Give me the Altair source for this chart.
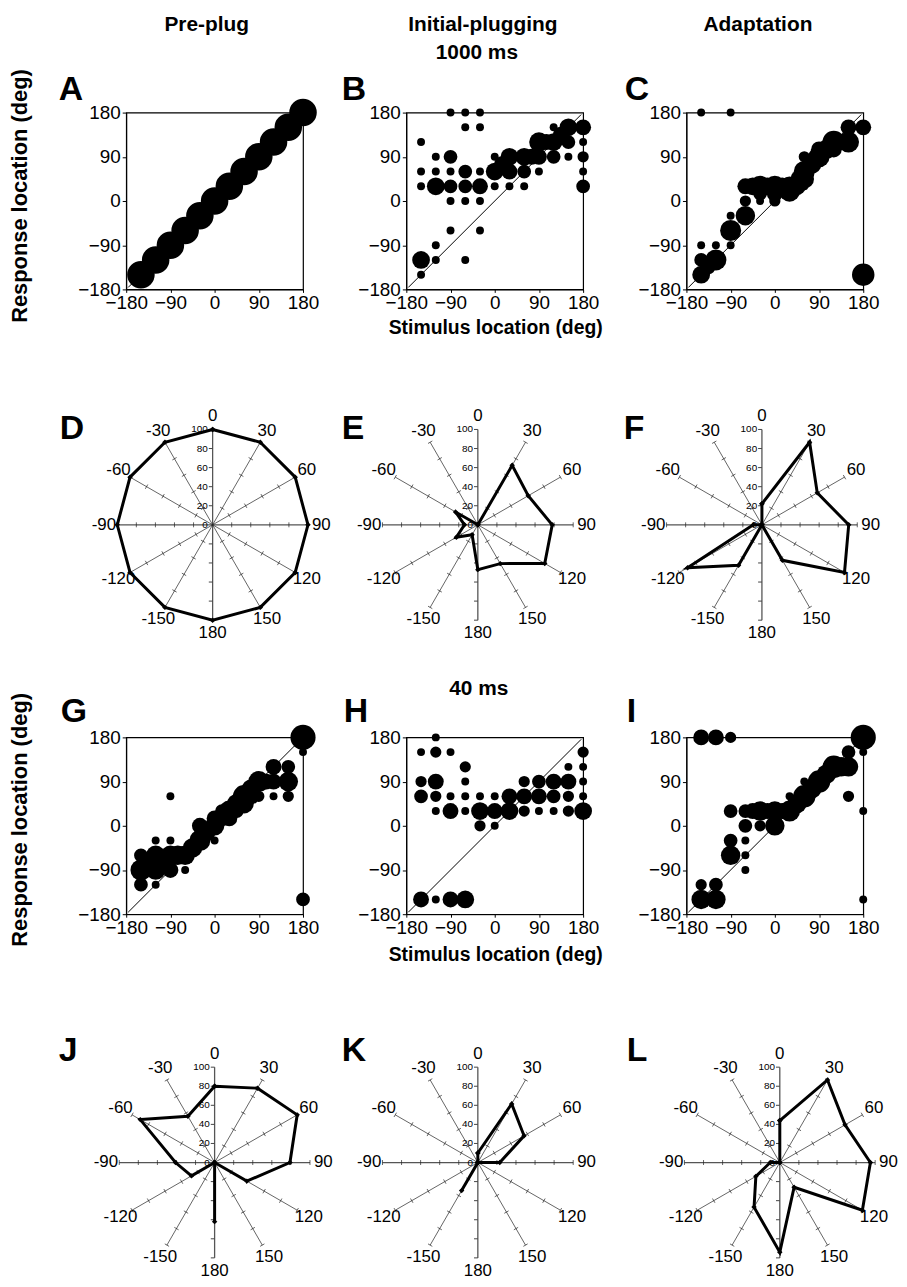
import altair as alt
import pandas as pd

FONT = "Liberation Sans"

# ---------------- text ----------------
COLUMN_TITLES = ["Pre-plug", "Initial-plugging", "Adaptation"]
DURATIONS = ["1000 ms", "40 ms"]
LETTERS = ["A", "B", "C", "D", "E", "F", "G", "H", "I", "J", "K", "L"]
Y_TITLE = "Response location (deg)"
X_TITLE = "Stimulus location (deg)"

# ---------------- scatter data ----------------
AXIS_TICKS = [-180, -90, 0, 90, 180]
DIAG = [-176, 176]

A_STIM = [-150, -120, -90, -60, -30, 0, 30, 60, 90, 120, 150, 180]
A_RESP = [-150, -120, -90, -60, -30, 0, 30, 60, 90, 120, 150, 180]
A_N = [12, 12, 12, 12, 12, 12, 12, 12, 12, 12, 12, 12]

B_STIM = [-150, -150, -150, -150, -150, -120, -120, -120, -120, -120,
          -90, -90, -90, -90, -90, -90, -60, -60, -60, -60, -60, -60,
          -30, -30, -30, -30, -30, -30, 0, 0, 0, 30, 30, 30, 60, 60, 60,
          90, 90, 90, 120, 120, 120, 150, 150, 150, 180, 180, 180, 180, 180,
          75, 105, 135, 15]
B_RESP = [120, 60, 30, -120, -150, 90, 60, 30, -90, -120,
          180, 90, 60, 30, 0, -60, 180, 150, 60, 30, 0, -120,
          180, 150, 60, 30, 0, -60, 90, 60, 30, 90, 60, 30, 90, 60, 30,
          120, 90, 60, 150, 120, 90, 150, 120, 90, 150, 120, 90, 60, 30,
          90, 120, 135, 75]
B_N = [1, 1, 1, 5, 1, 1, 1, 5, 1, 1,
       1, 3, 1, 3, 1, 1, 1, 1, 3, 3, 1, 1,
       1, 1, 1, 4, 1, 1, 1, 5, 1, 5, 4, 1, 5, 3, 1,
       6, 4, 1, 1, 5, 3, 5, 3, 1, 4, 1, 2, 1, 3,
       4, 4, 4, 4]

C_STIM = [-150, -90, -150, -150, -150, -135, -120, -120,
          -90, -90, -90, -60, -60, -60,
          -45, -30, -30, -30, -15, 0, 0, 0,
          15, 30, 30, 45, 50, 60, 60, 60, 60, 75,
          90, 90, 105, 120, 120, 135, 150, 150, 180, 180]
C_RESP = [180, 180, -90, -120, -150, -135, -120, -90,
          -30, -60, -90, -30, 0, 30,
          30, 30, 15, 0, 30, 30, 15, 0,
          30, 20, 30, 30, 45, 60, 45, 90, 30, 75,
          90, 105, 105, 120, 105, 120, 150, 120, 150, -150]
C_N = [1, 1, 1, 3, 5, 3, 7, 1,
       1, 7, 1, 6, 2, 4,
       5, 7, 3, 1, 5, 7, 4, 2,
       5, 7, 6, 5, 5, 7, 6, 2, 1, 6,
       7, 4, 6, 8, 4, 4, 4, 7, 4, 8]

G_STIM = [-150, -150, -150, -135, -120, -120, -120, -120, -105,
          -90, -90, -90, -90, -75, -60, -60, -45, -30, -30, -15,
          0, 0, 0, 15, 15, 30, 30, 45, 45, 60, 60, 75, 75,
          90, 90, 105, 120, 120, 120, 150, 150, 150, 180, 180, 180]
G_RESP = [-60, -90, -120, -75, -30, -60, -90, -120, -75,
          -30, -60, -90, 60, -60, -60, -90, -45, -30, 0, -15,
          0, 15, -30, 15, 30, 30, 15, 45, 30, 60, 45, 75, 60,
          90, 60, 90, 90, 120, 60, 90, 120, 60, 180, 150, -150]
G_N = [3, 7, 3, 4, 1, 6, 6, 1, 4,
       1, 6, 4, 1, 6, 6, 1, 6, 7, 4, 4,
       6, 4, 1, 4, 3, 7, 4, 6, 3, 8, 6, 6, 4,
       7, 2, 4, 4, 4, 1, 6, 3, 2, 10, 1, 3]

H_STIM = [-120, -150, -120, -90, -150, -120, -150, -120, -90, -120, -90,
          -60, -60, -60, -60, -30, -30, -30, 0, 0, 0, 30, 30,
          60, 60, 60, 90, 90, 90, 120, 120, 120, 150, 150, 150, 150,
          180, 180, 180, 180, 180, -150, -120, -90, -60]
H_RESP = [180, 150, 150, 150, 90, 90, 60, 60, 60, 30, 30,
          120, 90, 60, 30, 60, 30, 0, 60, 30, 0, 60, 30,
          90, 60, 30, 90, 60, 30, 90, 60, 30, 120, 90, 60, 30,
          150, 120, 90, 60, 30, -150, -150, -150, -150]
H_N = [1, 1, 2, 1, 2, 4, 3, 2, 1, 1, 4,
       2, 1, 1, 1, 1, 5, 2, 1, 4, 1, 4, 5,
       2, 4, 2, 3, 4, 1, 4, 3, 1, 1, 4, 2, 2,
       2, 1, 1, 1, 5, 4, 1, 4, 5]

I_STIM = [-150, -120, -90, 180, 180, 180, 180,
          150, 150, 150, 120, 135, 105, 90, 75, 60, 45, 60, 30, 15, 30,
          0, 0, -15, -30, -30, -45, -60, -60, -60, -60, -60,
          -90, -90, -90, -120, -120, -150, -150]
I_RESP = [180, 180, 180, 180, 150, 30, -150,
          150, 120, 60, 120, 120, 105, 90, 75, 60, 45, 90, 30, 30, 60,
          0, 30, 30, 30, 0, 30, 30, 0, -30, -60, -90,
          30, -30, -60, -120, -150, -120, -150]
I_N = [4, 4, 2, 10, 1, 1, 1,
       3, 6, 2, 8, 6, 6, 8, 6, 8, 6, 1, 7, 4, 1,
       6, 6, 4, 6, 2, 4, 3, 3, 1, 1, 1,
       3, 3, 6, 3, 6, 2, 6]

# ---------------- polar data ----------------
ANGLES = [0, 30, 60, 90, 120, 150, 180, -150, -120, -90, -60, -30]
ANGLE_TEXT = ["0", "30", "60", "90", "120", "150", "180",
              "-150", "-120", "-90", "-60", "-30"]
RADIAL_TICKS = [20, 40, 60, 80, 100]
RADIAL_LABELS = [0, 20, 40, 60, 80, 100]
SPOKE_LEN = 100

D_PCT = [100, 100, 100, 100, 100, 100, 100, 100, 100, 100, 100, 100]
E_PCT = [0, 72, 61, 78, 81, 47, 47, 12, 26, 14, 27, 0]
F_PCT = [22, 100, 67, 91, 100, 43, 0, 49, 90, 9, 0, 0]
J_PCT = [80, 90, 100, 79, 39, 0, 62, 0, 28, 41, 90, 56]
K_PCT = [10, 71, 56, 23, 0, 0, 0, 34, 0, 0, 0, 0]
L_PCT = [44, 100, 79, 95, 100, 30, 94, 54, 29, 10, 0, 0]

# ---------------- layout constants ----------------
PANEL_W = 178
SC_H = 178
ROW2_H = 451
ROW4_H = 300
COL_SPACING = 104
K = 0.96  # pixels per percent unit in polar panels
LETTER_SIZE = 34
TITLE_SIZE = 21

# symbol size = area of bounding square: one trial -> 8 px diameter
SIZE_SCALE = alt.Scale(domain=[0, 12], range=[0, 768])


def text_layer(text, x, y, size, align="left", baseline="alphabetic",
               bold=True, angle=None):
    kw = dict(align=align, baseline=baseline, fontSize=size, font=FONT,
              fontWeight="bold" if bold else "normal", color="black")
    if angle is not None:
        kw["angle"] = angle
    return alt.Chart(pd.DataFrame({"t": [text]})).mark_text(**kw).encode(
        x=alt.value(x), y=alt.value(y), text="t:N")


def scatter_panel(stim, resp, n, extras):
    df = pd.DataFrame({"stim": stim, "resp": resp, "n": n})
    sc = alt.Scale(domain=[-180, 180], nice=False, zero=False)
    xax = alt.Axis(values=AXIS_TICKS, title=None, labelFontSize=19,
                   tickSize=3, labelPadding=1, grid=False, labelFlush=False)
    yax = alt.Axis(values=AXIS_TICKS, title=None, labelFontSize=19,
                   tickSize=4, labelPadding=2, grid=False)
    diag = alt.Chart(pd.DataFrame({"lo": [DIAG[0]], "hi": [DIAG[1]]})).mark_rule(
        color="black", strokeWidth=1).encode(
        x=alt.X("lo:Q", scale=sc, axis=xax),
        y=alt.Y("lo:Q", scale=sc, axis=yax),
        x2="hi:Q", y2="hi:Q")
    pts = alt.Chart(df).mark_circle(color="black", opacity=1).encode(
        x=alt.X("stim:Q", scale=sc, axis=xax),
        y=alt.Y("resp:Q", scale=sc, axis=yax),
        size=alt.Size("n:Q", scale=SIZE_SCALE, legend=None))
    return alt.layer(diag, pts, *extras).properties(width=PANEL_W, height=SC_H)


def polar_panel(pct, cx, cy, h, extras):
    xs = alt.Scale(domain=[-cx / K, (PANEL_W - cx) / K], nice=False, zero=False)
    ys = alt.Scale(domain=[(cy - h) / K, cy / K], nice=False, zero=False)

    spokes = pd.DataFrame({"angle": ANGLES, "len": [SPOKE_LEN] * len(ANGLES)})
    spoke_base = alt.Chart(spokes).transform_calculate(
        x0="0", y0="0",
        x1="datum.len*sin(datum.angle*PI/180)",
        y1="datum.len*cos(datum.angle*PI/180)")
    thin = spoke_base.transform_filter(
        "datum.angle % 90 != 0").mark_rule(color="#222", strokeWidth=0.7).encode(
        x=alt.X("x0:Q", scale=xs, axis=None), y=alt.Y("y0:Q", scale=ys, axis=None),
        x2="x1:Q", y2="y1:Q")
    main = spoke_base.transform_filter(
        "datum.angle % 90 == 0").mark_rule(color="#555", strokeWidth=1.3).encode(
        x=alt.X("x0:Q", scale=xs, axis=None), y=alt.Y("y0:Q", scale=ys, axis=None),
        x2="x1:Q", y2="y1:Q")

    tick_rows = pd.DataFrame({
        "angle": [a for a in ANGLES for _ in RADIAL_TICKS],
        "r": [r for _ in ANGLES for r in RADIAL_TICKS]})
    ticks = alt.Chart(tick_rows).transform_filter(
        "datum.angle % 180 != 0").transform_calculate(
        cxp="datum.r*sin(datum.angle*PI/180)",
        cyp="datum.r*cos(datum.angle*PI/180)").transform_calculate(
        tx1="datum.cxp - 2.6*cos(datum.angle*PI/180)",
        ty1="datum.cyp + 2.6*sin(datum.angle*PI/180)",
        tx2="datum.cxp + 2.6*cos(datum.angle*PI/180)",
        ty2="datum.cyp - 2.6*sin(datum.angle*PI/180)").mark_rule(
        color="#222", strokeWidth=0.7).encode(
        x=alt.X("tx1:Q", scale=xs, axis=None), y=alt.Y("ty1:Q", scale=ys, axis=None),
        x2="tx2:Q", y2="ty2:Q")
    vticks = alt.Chart(tick_rows).transform_filter(
        "datum.angle % 180 == 0").transform_calculate(
        tx1="-4", tx2="0",
        ty="datum.r*cos(datum.angle*PI/180)").mark_rule(
        color="#444", strokeWidth=1).encode(
        x=alt.X("tx1:Q", scale=xs, axis=None), y=alt.Y("ty:Q", scale=ys, axis=None),
        x2="tx2:Q")

    rlab = alt.Chart(pd.DataFrame({"r": RADIAL_LABELS})).transform_calculate(
        lx="-5").mark_text(align="right", baseline="middle", fontSize=10,
                           font=FONT, color="black").encode(
        x=alt.X("lx:Q", scale=xs, axis=None), y=alt.Y("r:Q", scale=ys, axis=None),
        text="r:Q")

    alab = alt.Chart(pd.DataFrame({"angle": ANGLES, "t": ANGLE_TEXT})).transform_calculate(
        lx="114*sin(datum.angle*PI/180)",
        ly="114*cos(datum.angle*PI/180)").mark_text(
        align="center", baseline="middle", fontSize=17, font=FONT,
        color="black").encode(
        x=alt.X("lx:Q", scale=xs, axis=None), y=alt.Y("ly:Q", scale=ys, axis=None),
        text="t:N")

    poly_df = pd.DataFrame({"angle": ANGLES + [ANGLES[0]],
                            "pct": pct + [pct[0]],
                            "idx": list(range(len(ANGLES) + 1))})
    poly_base = alt.Chart(poly_df).transform_calculate(
        px="datum.pct*sin(datum.angle*PI/180)",
        py="datum.pct*cos(datum.angle*PI/180)")
    poly = poly_base.mark_line(color="black", strokeWidth=3,
                               strokeJoin="miter").encode(
        x=alt.X("px:Q", scale=xs, axis=None), y=alt.Y("py:Q", scale=ys, axis=None),
        order="idx:Q")
    verts = poly_base.mark_point(shape="diamond", filled=True, color="black",
                                 size=30, opacity=1).encode(
        x=alt.X("px:Q", scale=xs, axis=None), y=alt.Y("py:Q", scale=ys, axis=None))

    return alt.layer(main, thin, ticks, vticks, rlab, alab, poly, verts,
                     *extras).properties(
        width=PANEL_W, height=h, view=alt.ViewBackground(stroke="transparent"))


anchor = alt.Chart(pd.DataFrame({"t": [0]})).mark_rect(opacity=0).encode(
    x=alt.value(-118), x2=alt.value(-117), y=alt.value(-100), y2=alt.value(-99))

panel_a = scatter_panel(A_STIM, A_RESP, A_N, [
    anchor,
    text_layer(COLUMN_TITLES[0], 81, -82, TITLE_SIZE, align="center"),
    text_layer(LETTERS[0], -68, -13, LETTER_SIZE),
    text_layer(Y_TITLE, -107, 84, 22, align="center", baseline="middle", angle=270),
])
panel_b = scatter_panel(B_STIM, B_RESP, B_N, [
    text_layer(COLUMN_TITLES[1], 77, -82, TITLE_SIZE, align="center"),
    text_layer(DURATIONS[0], 71, -54, TITLE_SIZE, align="center"),
    text_layer(LETTERS[1], -65, -13, LETTER_SIZE),
    text_layer(X_TITLE, 90, 223, 19.5, align="center"),
])
panel_c = scatter_panel(C_STIM, C_RESP, C_N, [
    text_layer(COLUMN_TITLES[2], 72, -82, TITLE_SIZE, align="center"),
    text_layer(LETTERS[2], -62, -13, LETTER_SIZE),
])

panel_d = polar_panel(D_PCT, 87, 237, ROW2_H, [text_layer(LETTERS[3], -67, 151, LETTER_SIZE)])
panel_e = polar_panel(E_PCT, 72, 237, ROW2_H, [text_layer(LETTERS[4], -65, 151, LETTER_SIZE)])
panel_f = polar_panel(F_PCT, 76, 237, ROW2_H, [text_layer(LETTERS[5], -63, 151, LETTER_SIZE)])

panel_g = scatter_panel(G_STIM, G_RESP, G_N, [
    text_layer(LETTERS[6], -66, -15, LETTER_SIZE),
    text_layer(Y_TITLE, -107, 83, 22, align="center", baseline="middle", angle=270),
])
panel_h = scatter_panel(H_STIM, H_RESP, H_N, [
    text_layer(DURATIONS[1], 73, -43, TITLE_SIZE, align="center"),
    text_layer(LETTERS[7], -63, -15, LETTER_SIZE),
    text_layer(X_TITLE, 90, 225, 19.5, align="center"),
])
panel_i = scatter_panel(I_STIM, I_RESP, I_N, [
    text_layer(LETTERS[8], -60, -15, LETTER_SIZE),
])

panel_j = polar_panel(J_PCT, 89, 250, ROW4_H, [text_layer(LETTERS[9], -68, 148, LETTER_SIZE)])
panel_k = polar_panel(K_PCT, 72, 250, ROW4_H, [text_layer(LETTERS[10], -65, 148, LETTER_SIZE)])
panel_l = polar_panel(L_PCT, 94, 250, ROW4_H, [text_layer(LETTERS[11], -60, 148, LETTER_SIZE)])

chart = alt.concat(
    panel_a, panel_b, panel_c,
    panel_d, panel_e, panel_f,
    panel_g, panel_h, panel_i,
    panel_j, panel_k, panel_l,
    columns=3, bounds="flush",
    spacing=alt.RowColnumber(row=0, column=COL_SPACING),
).properties(padding=0).configure(
    background="white", font=FONT
).configure_view(
    stroke="black", strokeWidth=1.2
).configure_axis(
    labelFont=FONT, labelColor="black", domainColor="black", tickColor="black",
    domainWidth=1, tickWidth=1, grid=False
)

chart.save("out.html", embed_options={"renderer": "svg", "actions": False})
